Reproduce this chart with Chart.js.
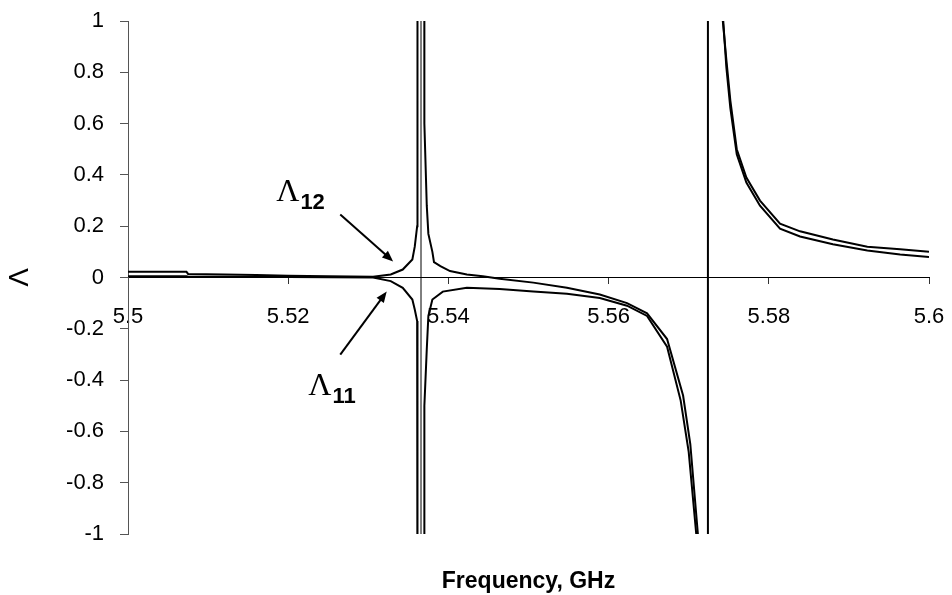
<!DOCTYPE html>
<html>
<head>
<meta charset="utf-8">
<script src="https://cdn.jsdelivr.net/npm/chart.js@4.4.1/dist/chart.umd.min.js"></script>
<style>
  html, body { margin: 0; padding: 0; background: #fff; }
  #wrap { width: 952px; height: 595px; }
</style>
</head>
<body>
<div id="wrap"><canvas id="lambdaCanvas" width="952" height="595"></canvas></div>
<script>
// tick labels
var xTickLabels = ['5.5', '5.52', '5.54', '5.56', '5.58', '5.6'];
var yTickLabels = ['-1', '-0.8', '-0.6', '-0.4', '-0.2', '0', '0.2', '0.4', '0.6', '0.8', '1'];

// Lambda 12 (frequency in GHz, value)
var freq12 = [5.5, 5.5073, 5.5075, 5.512, 5.516, 5.52, 5.525, 5.5306, 5.5328, 5.5343, 5.5355, 5.5358, 5.5361, 5.53614,
  5.53699, 5.537, 5.5373, 5.5375, 5.538, 5.5382, 5.539, 5.5402, 5.5423, 5.5443, 5.5464, 5.5506, 5.5548, 5.5589,
  5.5623, 5.5648, 5.5673, 5.5693, 5.5702, 5.5712, 5.5724, 5.5724, 5.5742, 5.5747, 5.5752, 5.576, 5.5772, 5.5789,
  5.5814, 5.5839, 5.588, 5.5923, 5.5964, 5.6];
var lambda12 = [0.022, 0.022, 0.014, 0.012, 0.010, 0.007, 0.005, 0.003, 0.012, 0.031, 0.07, 0.12, 0.2, 1.5,
  1.5, 0.6, 0.28, 0.17, 0.10, 0.06, 0.044, 0.025, 0.012, 0.005, -0.005, -0.02, -0.04, -0.066,
  -0.10, -0.14, -0.24, -0.46, -0.65, -1.02, -3, 3, 1.02, 0.85, 0.69, 0.50, 0.39, 0.30,
  0.21, 0.18, 0.148, 0.12, 0.11, 0.10];

// Lambda 11
var freq11 = [5.5, 5.5073, 5.5075, 5.512, 5.516, 5.52, 5.525, 5.5306, 5.5328, 5.5343, 5.5355, 5.5358, 5.5361, 5.53614,
  5.53699, 5.537, 5.5373, 5.5375, 5.538, 5.5393, 5.5423, 5.5464, 5.5506, 5.5548, 5.5589, 5.5623, 5.5648, 5.5673,
  5.569, 5.57, 5.571, 5.5726, 5.5741, 5.5747, 5.5752, 5.576, 5.5772, 5.5789, 5.5814, 5.5839, 5.588, 5.5923,
  5.5964, 5.6];
var lambda11 = [0.005, 0.005, 0.003, 0.003, 0.002, 0.002, 0.001, 0, -0.014, -0.04, -0.086, -0.125, -0.17, -1.5,
  -1.5, -0.5, -0.28, -0.15, -0.086, -0.055, -0.04, -0.045, -0.055, -0.063, -0.08, -0.11, -0.15, -0.27,
  -0.48, -0.68, -1.02, null, 1.1, 0.82, 0.66, 0.48, 0.37, 0.28, 0.19, 0.16, 0.13, 0.105,
  0.09, 0.08];

// thin vertical line at the first resonance
var thinFreq = [5.53658, 5.53658];
var thinValue = [-1.2, 1.2];

// labels with arrows (data coordinates)
var noteSub = ['12', '11'];
var noteFreq = [5.5185, 5.5225];
var noteValue = [0.297, -0.457];
var arrowTailFreq = [5.5265, 5.5265];
var arrowTailValue = [0.246, -0.301];
var arrowTipFreq = [5.5331, 5.5323];
var arrowTipValue = [0.0625, -0.0547];

function toPoints(xs, ys) {
  var pts = [];
  for (var i in xs) {
    pts.push({x: xs[i], y: ys[i]});
  }
  return pts;
}

// no extra room for the end labels
function noPad(scale) {
  scale.paddingLeft = 0;
  scale.paddingRight = 0;
  scale.paddingTop = 0;
  scale.paddingBottom = 0;
}

// draws the Lambda labels and arrows
var notesPlugin = {
  id: 'notes',
  afterDatasetsDraw: function(chart) {
    var ctx = chart.ctx;
    var sx = chart.scales.x;
    var sy = chart.scales.y;
    ctx.save();
    ctx.fillStyle = '#000';
    ctx.strokeStyle = '#000';
    for (var i = 0; i < noteSub.length; i++) {
      var px = sx.getPixelForValue(noteFreq[i]);
      var py = sy.getPixelForValue(noteValue[i]);
      ctx.textBaseline = 'alphabetic';
      ctx.textAlign = 'left';
      ctx.font = '32px "Liberation Serif"';
      ctx.fillText('\u039B', px, py);
      var w = ctx.measureText('\u039B').width;
      ctx.font = 'bold 22px "Liberation Sans"';
      ctx.fillText(noteSub[i], px + w + 1, py + 8);

      // arrow
      var x1 = sx.getPixelForValue(arrowTailFreq[i]);
      var y1 = sy.getPixelForValue(arrowTailValue[i]);
      var x2 = sx.getPixelForValue(arrowTipFreq[i]);
      var y2 = sy.getPixelForValue(arrowTipValue[i]);
      var ang = Math.atan2(y2 - y1, x2 - x1);
      var head = 11;
      ctx.lineWidth = 2;
      ctx.beginPath();
      ctx.moveTo(x1, y1);
      ctx.lineTo(x2 - Math.cos(ang) * head * 0.8, y2 - Math.sin(ang) * head * 0.8);
      ctx.stroke();
      ctx.beginPath();
      ctx.moveTo(x2, y2);
      ctx.lineTo(x2 - head * Math.cos(ang) + 4.5 * Math.sin(ang), y2 - head * Math.sin(ang) - 4.5 * Math.cos(ang));
      ctx.lineTo(x2 - head * Math.cos(ang) - 4.5 * Math.sin(ang), y2 - head * Math.sin(ang) + 4.5 * Math.cos(ang));
      ctx.closePath();
      ctx.fill();
    }
    ctx.restore();
  }
};

var chartdata = {
  datasets: [
    {
      label: 'Lambda12',
      data: toPoints(freq12, lambda12),
      borderColor: '#000',
      borderWidth: 2,
      pointRadius: 0,
      tension: 0,
      spanGaps: false
    },
    {
      label: 'Lambda11',
      data: toPoints(freq11, lambda11),
      borderColor: '#000',
      borderWidth: 2,
      pointRadius: 0,
      tension: 0,
      spanGaps: false
    },
    {
      label: 'thin',
      data: toPoints(thinFreq, thinValue),
      borderColor: '#000',
      borderWidth: 1,
      pointRadius: 0
    }
  ]
};

var ctx = document.getElementById('lambdaCanvas');
var lambdaChart = new Chart(ctx, {
  type: 'line',
  data: chartdata,
  plugins: [notesPlugin],
  options: {
    responsive: false,
    animation: false,
    events: [],
    layout: { padding: { left: 0, right: 23, top: 21, bottom: 0 } },
    plugins: { legend: { display: false }, tooltip: { enabled: false } },
    scales: {
      x: {
        type: 'linear',
        min: 5.5,
        max: 5.6,
        position: { y: 0 },
        grid: { display: true, drawOnChartArea: false, drawTicks: true, tickLength: 6, color: '#333' },
        border: { display: true, color: '#000', width: 1 },
        ticks: {
          stepSize: 0.02,
          padding: 20,
          autoSkip: false,
          maxRotation: 0,
          color: '#000',
          font: { family: 'Liberation Sans', size: 22 },
          callback: function(value, index) { return xTickLabels[index]; }
        },
        afterFit: noPad
      },
      x2: {
        type: 'linear',
        position: 'bottom',
        min: 5.5,
        max: 5.6,
        grid: { display: false },
        border: { display: false },
        ticks: { display: false },
        title: {
          display: true,
          text: 'Frequency, GHz',
          color: '#000',
          font: { family: 'Liberation Sans', size: 23, weight: 'bold' },
          padding: { top: 0, bottom: 0 }
        },
        afterFit: function(scale) { noPad(scale); scale.height = 61; }
      },
      y: {
        type: 'linear',
        min: -1,
        max: 1,
        grid: { display: true, drawOnChartArea: false, drawTicks: true, tickLength: 8, color: '#555' },
        border: { display: true, color: '#555', width: 1 },
        ticks: {
          stepSize: 0.2,
          padding: 16,
          color: '#000',
          font: { family: 'Liberation Sans', size: 22 },
          callback: function(value, index) { return yTickLabels[index]; }
        },
        title: {
          display: true,
          text: '\u039B',
          color: '#000',
          font: { family: 'Liberation Sans', size: 28 },
          padding: { top: 3, bottom: 0 }
        },
        afterFit: function(scale) { noPad(scale); scale.width = 128; }
      }
    }
  }
});
</script>
</body>
</html>
